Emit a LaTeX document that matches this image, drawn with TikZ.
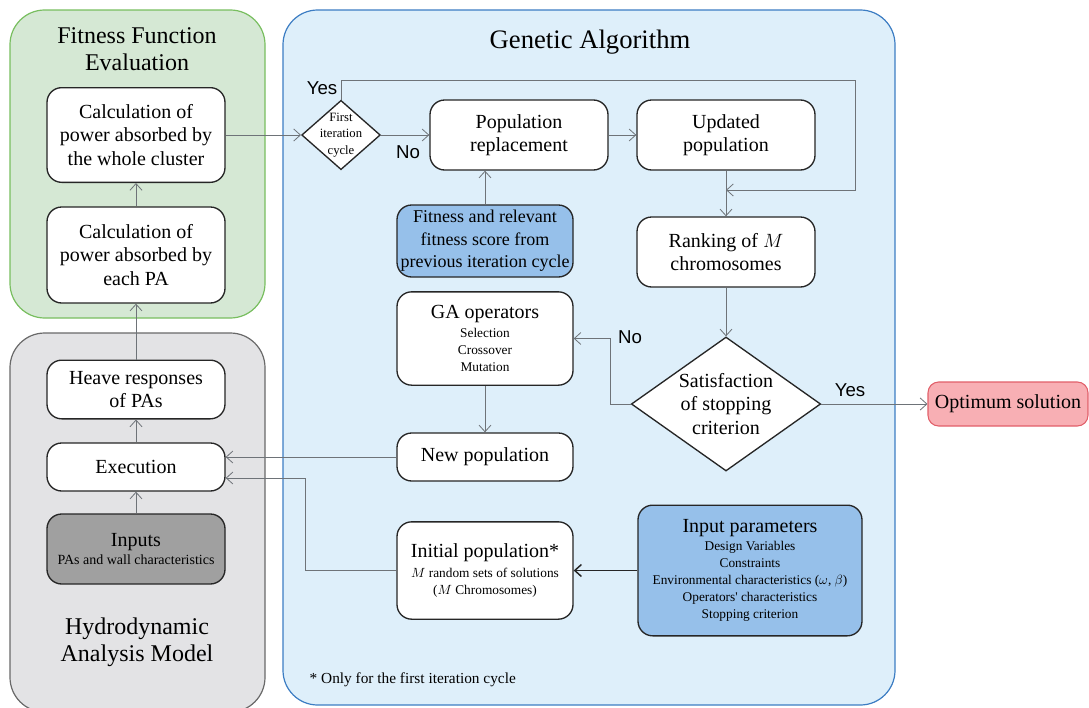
\documentclass[tikz,border=0pt]{standalone}
\usepackage{fontspec}
\setmainfont{Liberation Serif}
\newfontfamily\labelfont{Liberation Sans}
\usetikzlibrary{shapes.geometric,arrows.meta}

\definecolor{fitgreen}{RGB}{213,232,212}
\definecolor{fitgreenline}{RGB}{120,190,95}
\definecolor{gablue}{RGB}{222,239,250}
\definecolor{gablueline}{RGB}{60,125,195}
\definecolor{hydgray}{RGB}{227,227,229}
\definecolor{hydgrayline}{RGB}{105,105,105}
\definecolor{parblue}{RGB}{150,192,234}
\definecolor{inpgray}{RGB}{160,160,160}
\definecolor{optred}{RGB}{248,175,180}
\definecolor{optredline}{RGB}{225,95,105}
\definecolor{linegray}{RGB}{110,115,120}

\newcommand\mainsize{\fontsize{15}{17.5}\selectfont}
\newcommand\smallsize{\fontsize{10}{12.8}\selectfont}
\newcommand\titlesize{\fontsize{18}{20.5}\selectfont}

\begin{document}
\begin{tikzpicture}[x=0.75pt,y=-0.75pt,
    grp/.style={rounded corners=26pt,line width=0.9pt},
    box/.style={draw=black!85,fill=white,rounded corners=11pt,line width=1pt,inner sep=2pt,align=flush center,font=\mainsize},
    leftbox/.style={box,text width=129.5pt},
    gabox/.style={box,text width=128pt},
    decision/.style={draw=black!85,fill=white,diamond,line width=1pt,inner sep=0pt},
    arr/.style={draw=linegray,line width=0.6pt,-{Straight Barb[length=5pt,width=9pt]}},
    lbl/.style={font=\labelfont\fontsize{14}{16}\selectfont}]

  \useasboundingbox (0,0) rectangle (1089,707);

  %% The three groups
  \draw[grp,draw=fitgreenline,fill=fitgreen] (10,10) rectangle (265,318);
  \draw[grp,draw=hydgrayline,fill=hydgray] (10,333) rectangle (265,712);
  \draw[grp,draw=gablueline,fill=gablue] (283,10) rectangle (895,705);

  \node[font=\titlesize,align=center] (fittitle) at (137,49) {Fitness Function\\Evaluation};
  \node[font=\fontsize{20}{22}\selectfont] (gatitle) at (590,42) {Genetic Algorithm};
  \node[font=\titlesize,align=center] (hydtitle) at (137,642) {Hydrodynamic\\Analysis Model};

  %% Left column
  \node[leftbox,minimum height=71pt] (cluster) at (136,135) {Calculation of\\power absorbed by\\the whole cluster};
  \node[leftbox,minimum height=72pt] (each) at (136,255) {Calculation of\\power absorbed by\\each PA};
  \node[leftbox,minimum height=44pt] (heave) at (136,389.5) {Heave responses\\of PAs};
  \node[leftbox,minimum height=36pt] (exec) at (136,467) {Execution};
  \node[leftbox,minimum height=52.5pt,fill=inpgray] (inputs) at (136,549) {Inputs\par\vspace{1pt}\fontsize{10.5}{12}\selectfont PAs and wall characteristics\par};

  %% Genetic algorithm, middle column
  \node[box,minimum width=132pt,minimum height=54pt,fill=parblue,align=center,font=\fontsize{13.5}{17}\selectfont] (fitprev) at (485,241) {Fitness and relevant\\fitness score from\\previous iteration cycle};
  \node[gabox,minimum height=70pt] (gaop) at (485,338.5) {GA operators\par\vspace{2pt}\smallsize Selection\\Crossover\\Mutation\par};
  \node[gabox,minimum height=36pt] (newpop) at (485,457) {New population};
  \node[gabox,minimum height=73pt] (initpop) at (485,570.5) {Initial population*\par\vspace{2pt}\smallsize $M$ random sets of solutions\\($M$ Chromosomes)\par};

  %% Genetic algorithm, right column
  \node[leftbox,minimum height=52.5pt] (poprep) at (519,135) {Population\\replacement};
  \node[leftbox,minimum height=52.5pt] (updated) at (726,135) {Updated\\population};
  \node[leftbox,minimum height=52.5pt] (ranking) at (726,252) {Ranking of $M$\\chromosomes};
  \node[box,text width=164pt,minimum height=98pt,fill=parblue] (inparam) at (750,570.5) {Input parameters\par\vspace{1pt}\smallsize Design Variables\\Constraints\\Environmental characteristics (\(\omega\), \(\beta\))\\Operators\textquotesingle\ characteristics\\Stopping criterion\par};

  %% Decisions
  \node[decision,minimum width=59pt,minimum height=52pt] (first) at (341,135) {};
  \node[font=\fontsize{9.5}{12.5}\selectfont,align=center] (firsttxt) at (first.center) {First\\iteration\\cycle};
  \node[decision,minimum width=142pt,minimum height=100.5pt] (satisf) at (726,404) {};
  \node[font=\mainsize,align=center] (satisftxt) at (satisf.center) {Satisfaction\\of stopping\\criterion};

  \node[draw=optredline,fill=optred,rounded corners=8pt,line width=0.8pt,minimum width=120pt,minimum height=33pt,font=\mainsize] (optimum) at (1008,404) {Optimum solution};

  %% Connectors
  \foreach \a/\b in {inputs/exec,exec/heave,heave/each,each/cluster}{
    \draw[arr] (\a) -- (\b);
  }
  \draw[arr] (cluster) -- (first);
  \draw[arr] (first) -- (poprep);
  \draw[arr] (poprep) -- (updated);
  \draw[arr] (updated) -- (ranking);
  \draw[arr] (ranking) -- (satisf);
  \draw[arr] (fitprev.north) -- (fitprev.north |- poprep.south);
  \draw[arr] (gaop) -- (newpop);
  \draw[arr] (satisf) -- (optimum);
  \draw[arr] (newpop.west) -- (newpop.west -| exec.east);
  \draw[arr,draw=black!85,line width=1.1pt] (inparam) -- (initpop);

  %% Loop back when first cycle
  \coordinate (loopTR) at (855,80);
  \coordinate (loopBR) at (855,190);
  \coordinate (merge) at (726,190);
  \draw[arr] (first.north) |- (loopTR) -- (loopBR) -- (merge);

  \coordinate (nobend) at (610,404);
  \draw[arr] (satisf.west) -- (nobend) |- (gaop.east);

  \coordinate (initbend) at (305,478);
  \draw[arr] (initpop.west) -| (initbend) -- (initbend -| exec.east);

  %% Labels
  \node[lbl] (yes1) at (322,88) {Yes};
  \node[lbl] (no1) at (408,152) {No};
  \node[lbl] (no2) at (630,337) {No};
  \node[lbl] (yes2) at (850,390) {Yes};

  \node[anchor=west,font=\fontsize{11.5}{13}\selectfont] (note) at (305,680) {* Only for the first iteration cycle};

\end{tikzpicture}
\end{document}
